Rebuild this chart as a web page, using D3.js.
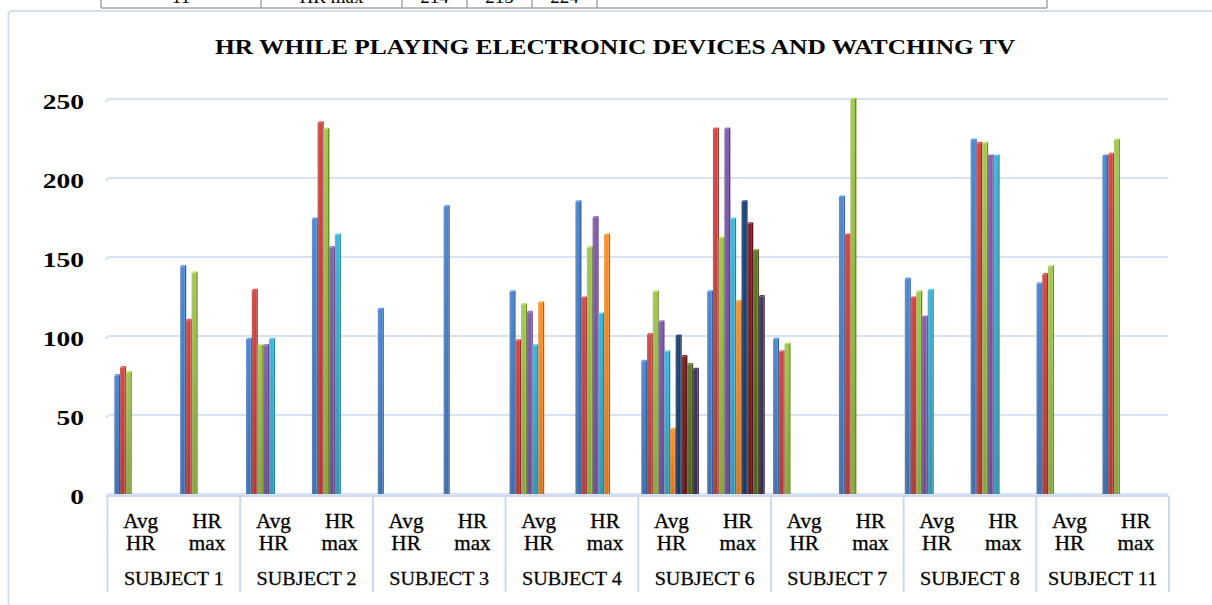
<!DOCTYPE html>
<html>
<head>
<meta charset="utf-8">
<script src="https://cdn.jsdelivr.net/npm/d3@7/dist/d3.min.js"></script>
<style>
body { margin: 0; background: #fff; }
svg { display: block; font-family: "Liberation Serif", "Times New Roman", serif; }
</style>
</head>
<body>
<svg width="1212" height="605"></svg>
<script>
// chart values
var subjects = ["SUBJECT 1", "SUBJECT 2", "SUBJECT 3", "SUBJECT 4", "SUBJECT 6", "SUBJECT 7", "SUBJECT 8", "SUBJECT 11"];
var measures = [["Avg", "HR"], ["HR", "max"]];
var yTicks = [0, 50, 100, 150, 200, 250];
var title = "HR WHILE PLAYING ELECTRONIC DEVICES AND WATCHING TV";

// each list: Avg HR, HR max per subject (null = no bar)
var trial1 = [75, 144, 98, 174, 117, 182, 128, 185, 84, 128, 98, 188, 136, 224, 133, 214];
var trial2 = [80, 110, 129, 235, null, null, 97, 124, 101, 231, 90, 164, 124, 222, 139, 215];
var trial3 = [77, 140, 94, 231, null, null, 120, 156, 128, 162, 95, 250, 128, 222, 144, 224];
var trial4 = [null, null, 94, 156, null, null, 115, 175, 109, 231, null, null, 112, 214, null, null];
var trial5 = [null, null, 98, 164, null, null, 94, 114, 90, 174, null, null, 129, 214, null, null];
var trial6 = [null, null, null, null, null, null, 121, 164, 41, 122, null, null, null, null, null, null];
var trial7 = [null, null, null, null, null, null, null, null, 100, 185, null, null, null, null, null, null];
var trial8 = [null, null, null, null, null, null, null, null, 87, 171, null, null, null, null, null, null];
var trial9 = [null, null, null, null, null, null, null, null, 82, 154, null, null, null, null, null, null];
var trial10 = [null, null, null, null, null, null, null, null, 79, 125, null, null, null, null, null, null];

// bit of the table sitting above the chart
var tableCells = ["11", "HR max", "214", "215", "224", ""];

var trials = [trial1, trial2, trial3, trial4, trial5, trial6, trial7, trial8, trial9, trial10];
var colors = ["#4A82CC", "#CC4541", "#9CC24C", "#7E5CA8", "#3DB0D0", "#FA8C28",
              "#1F4478", "#7A2220", "#5A7428", "#45335E"];

var svg = d3.select("svg");
var defs = svg.append("defs");

var nCat = subjects.length * measures.length;

var yScale = d3.scaleLinear().domain([0, 250]).range([494, 99]);
var boxScale = d3.scaleBand().domain(d3.range(nCat)).range([107.5, 1169]);
var subjScale = d3.scaleBand().domain(subjects).range([107.5, 1169]);
var barScale = d3.scaleBand().domain(d3.range(nCat)).range([110, 1164]);
var slotScale = d3.scaleBand().domain(d3.range(trials.length))
    .range([0, barScale.bandwidth()]).paddingOuter(0.75);

// ---- table fragment at the top
var cellX = [101, 261, 402, 467, 532, 597, 1047];
var tbl = svg.append("g").attr("id", "table");
tbl.append("line")
    .attr("x1", cellX[0]).attr("x2", cellX[6])
    .attr("y1", 8).attr("y2", 8)
    .attr("stroke", "#A6A6A6").attr("stroke-width", 1.5);
tbl.selectAll(".vl").data(cellX).enter()
    .append("line")
    .attr("x1", function(d){ return d; }).attr("x2", function(d){ return d; })
    .attr("y1", 0).attr("y2", 8)
    .attr("stroke", "#A6A6A6").attr("stroke-width", 1.5);
tbl.selectAll("text").data(tableCells).enter()
    .append("text")
    .attr("x", function(d, i){ return (cellX[i] + cellX[i + 1]) / 2; })
    .attr("y", 3)
    .attr("text-anchor", "middle")
    .attr("font-size", 19)
    .text(function(d){ return d; });

// ---- chart area border
svg.append("path")
    .attr("d", "M8.5,605 L8.5,15 Q8.5,11 12.5,11 L1212,11")
    .attr("fill", "none")
    .attr("stroke", "#D3DFEE")
    .attr("stroke-width", 2);

// ---- title
svg.append("text")
    .attr("x", 615)
    .attr("y", 54)
    .attr("text-anchor", "middle")
    .attr("font-size", 20)
    .attr("font-weight", "bold")
    .attr("textLength", 800)
    .attr("lengthAdjust", "spacingAndGlyphs")
    .text(title);

// ---- gridlines
var grid = svg.append("g").attr("id", "grid");
yTicks.forEach(function(t){
    var y = yScale(t);
    grid.append("path")
        .attr("d", "M106," + (y + 3) + " Q107," + y + " 111," + y + " L1168," + y)
        .attr("fill", "none")
        .attr("stroke", "#D7E3F2")
        .attr("stroke-width", 2);
});

// ---- y axis labels
var yAxis = d3.axisLeft(yScale).tickValues(yTicks).tickSize(0).tickPadding(0);
var yG = svg.append("g")
    .attr("transform", "translate(84,2)")
    .call(yAxis);
yG.select(".domain").remove();
yG.selectAll("text")
    .attr("font-family", "Liberation Serif, serif")
    .attr("font-size", 22)
    .attr("font-weight", "bold")
    .attr("fill", "#000")
    .attr("transform", "scale(1.25,1)");

// ---- bar gradients
colors.forEach(function(c, i){
    var g = defs.append("linearGradient")
        .attr("id", "grad" + i)
        .attr("x1", 0).attr("y1", 0).attr("x2", 0).attr("y2", 1);
    g.append("stop").attr("offset", "0%").attr("stop-color", d3.color(c).brighter(0.1));
    g.append("stop").attr("offset", "100%").attr("stop-color", d3.color(c).darker(0.45));
    var h = defs.append("linearGradient")
        .attr("id", "hgrad" + i)
        .attr("x1", 0).attr("y1", 0).attr("x2", 1).attr("y2", 0);
    h.append("stop").attr("offset", "0%").attr("stop-color", "#fff").attr("stop-opacity", 0.12);
    h.append("stop").attr("offset", "60%").attr("stop-color", "#fff").attr("stop-opacity", 0);
});

// ---- bars
var bars = svg.append("g").attr("id", "bars");
var side = 1.4;
trials.forEach(function(vals, s){
    var gs = bars.append("g");
    vals.forEach(function(v, c){
        if (v == null) return;
        var x = barScale(c) + slotScale(s);
        var fw = slotScale.bandwidth() - side + 0.3;
        var y = yScale(v);
        var h = yScale(0) - y;
        // side face
        gs.append("rect")
            .attr("x", x + fw).attr("y", y - 1)
            .attr("width", side).attr("height", h + 1)
            .attr("fill", d3.color(colors[s]).darker(1));
        // top face
        gs.append("path")
            .attr("d", "M" + x + "," + y + " L" + (x + fw) + "," + y + " L" + (x + fw + side) + "," + (y - 1.5) + " L" + (x + side) + "," + (y - 1.5) + "Z")
            .attr("fill", d3.color(colors[s]).brighter(0.6));
        // front face
        gs.append("rect")
            .attr("x", x).attr("y", y)
            .attr("width", fw).attr("height", h)
            .attr("fill", "url(#grad" + s + ")");
        gs.append("rect")
            .attr("x", x).attr("y", y)
            .attr("width", fw).attr("height", h)
            .attr("fill", "url(#hgrad" + s + ")");
    });
});

// ---- category axis boxes
var axisG = svg.append("g").attr("id", "catAxis");
var boxTop = 496, boxBottom = 592;
axisG.append("line")
    .attr("x1", 107.5).attr("x2", 1169)
    .attr("y1", boxTop).attr("y2", boxTop)
    .attr("stroke", "#CCDAEE").attr("stroke-width", 2);
var bounds = subjects.map(function(d){ return subjScale(d); }).concat([1169]);
axisG.selectAll(".sep").data(bounds).enter()
    .append("line")
    .attr("x1", function(d){ return d; }).attr("x2", function(d){ return d; })
    .attr("y1", boxTop).attr("y2", boxBottom)
    .attr("stroke", "#CCDAEE").attr("stroke-width", 2);

d3.range(nCat).forEach(function(c){
    var lines = measures[c % 2];
    var cx = boxScale(c) + boxScale.bandwidth() / 2;
    lines.forEach(function(t, j){
        axisG.append("text")
            .attr("transform", "translate(" + cx + "," + (528 + j * 22) + ") scale(1.06,1)")
            .attr("text-anchor", "middle")
            .attr("font-size", 20)
            .attr("stroke", "#000")
            .attr("stroke-width", 0.3)
            .text(t);
    });
});

subjects.forEach(function(s){
    axisG.append("text")
        .attr("transform", "translate(" + (subjScale(s) + subjScale.bandwidth() / 2) + ",585) scale(1.09,1)")
        .attr("text-anchor", "middle")
        .attr("font-size", 18.5)
        .attr("stroke", "#000")
        .attr("stroke-width", 0.25)
        .text(s);
});
</script>
</body>
</html>
